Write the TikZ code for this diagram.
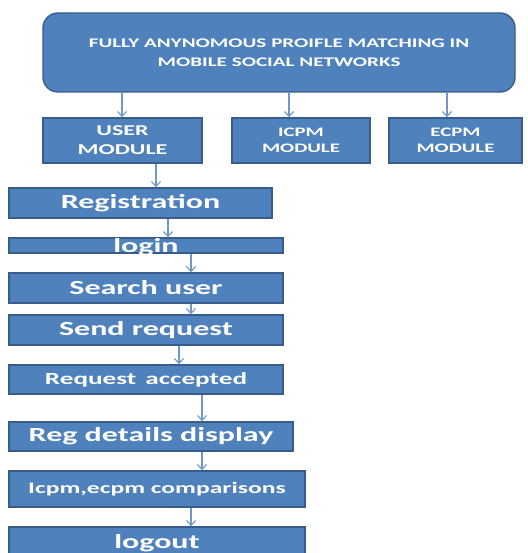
\documentclass[tikz,border=0pt]{standalone}
\usepackage{fontspec}
\setmainfont{Carlito}[FakeStretch=1.6]
\usetikzlibrary{arrows.meta}
\definecolor{boxfill}{HTML}{4F81BD}
\definecolor{boxedge}{HTML}{385D8A}
\definecolor{arrcol}{HTML}{6E98CC}
\tikzset{
  box/.style={draw=boxedge, line width=1.4pt, fill=boxfill, text=white, inner sep=0pt, align=center, font=\bfseries},
  arr/.style={draw=arrcol, line width=1.1pt, -{Straight Barb[length=5pt,width=9pt]}},
}
\begin{document}
\begin{tikzpicture}[x=1pt,y=-1pt]
\clip (0,0) rectangle (527,553);
\fill[white] (0,0) rectangle (527,553);
\node[box, rounded corners=15pt, minimum width=472pt, minimum height=79pt, font=\bfseries\fontsize{13.2}{19}\selectfont] (top) at (279,52.5) {FULLY ANYNOMOUS PROIFLE MATCHING IN\\MOBILE SOCIAL NETWORKS};
\node[box, minimum width=159pt, minimum height=45pt, font=\bfseries\fontsize{15}{19}\selectfont] (user) at (122.5,140.5) {USER\\MODULE};
\node[box, minimum width=138pt, minimum height=45pt, font=\bfseries\fontsize{13}{16}\selectfont] (icpm) at (301,140.5) {ICPM\\MODULE};
\node[box, minimum width=133pt, minimum height=45pt, font=\bfseries\fontsize{13}{16}\selectfont] (ecpm) at (455.5,140.5) {ECPM\\MODULE};
\node[box, minimum width=263pt, minimum height=30pt, font=\bfseries\fontsize{20}{24}\selectfont] (reg) at (140.5,203) {Registration};
\node[box, minimum width=274pt, minimum height=15pt, font=\bfseries\fontsize{20}{24}\selectfont] (login) at (146,245.5) {\raisebox{-7pt}[0pt][0pt]{login}};
\node[box, minimum width=274pt, minimum height=30pt, font=\bfseries\fontsize{20}{24}\selectfont] (search) at (146,288) {Search user};
\node[box, minimum width=274pt, minimum height=30pt, font=\bfseries\fontsize{20}{24}\selectfont] (send) at (146,330) {Send request};
\node[box, minimum width=274pt, minimum height=29pt, font=\bfseries\fontsize{17}{20}\selectfont] (acc) at (146,379.5) {Request\, accepted};
\node[box, minimum width=284pt, minimum height=29pt, font=\bfseries\fontsize{20}{24}\selectfont] (regd) at (151,436.5) {Reg details display};
\node[box, minimum width=296pt, minimum height=36pt, font=\bfseries\fontsize{16}{20}\selectfont] (cmp) at (157,489) {Icpm,ecpm comparisons};
\node[box, minimum width=296pt, minimum height=33pt, font=\bfseries\fontsize{20}{24}\selectfont] (logout) at (157,543.5) {\raisebox{-3pt}{logout}};
% top arrows
\draw[arr] (122,0 |- top.south) -- (122,0 |- user.north);
\draw[arr] (289,0 |- top.south) -- (289,0 |- icpm.north);
\draw[arr] (447,0 |- top.south) -- (447,0 |- ecpm.north);
% flow arrows
\draw[arr] (156,0 |- user.south) -- (156,0 |- reg.north);
\draw[arr] (168,0 |- reg.south) -- (168,0 |- login.north);
\draw[arr] (191,0 |- login.south) -- (191,0 |- search.north);
\draw[arr] (191,0 |- search.south) -- (191,0 |- send.north);
\draw[arr] (179,0 |- send.south) -- (179,0 |- acc.north);
\draw[arr] (202,0 |- acc.south) -- (202,0 |- regd.north);
\draw[arr] (202,0 |- regd.south) -- (202,0 |- cmp.north);
\draw[arr] (191,0 |- cmp.south) -- (191,0 |- logout.north);
\end{tikzpicture}
\end{document}
